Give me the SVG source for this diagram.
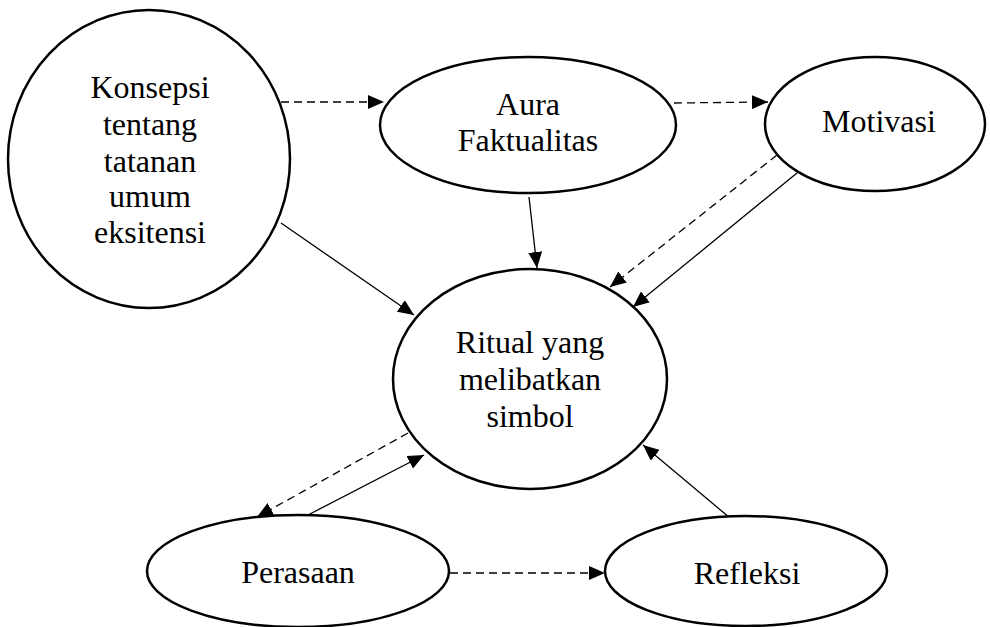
<svg xmlns="http://www.w3.org/2000/svg" width="990" height="627" viewBox="0 0 990 627">
<style>
.node ellipse{fill:#fff;stroke:#000;stroke-width:2.5}
.node text{font-family:"Liberation Serif","Times New Roman",serif;font-size:32px;fill:#000;text-anchor:middle}
.edge{stroke:#000;stroke-width:1.3;fill:none;marker-end:url(#ah)}
.dash{stroke-dasharray:8 5}
</style>
<defs>
<marker id="ah" markerUnits="userSpaceOnUse" markerWidth="16" markerHeight="14" refX="16" refY="7" orient="auto">
<path d="M0,0 L16,7 L0,14 z" fill="#000"/>
</marker>
</defs>
<rect width="990" height="627" fill="#fff"/>
<g id="connectors">
<line class="edge dash" x1="281" y1="102" x2="384" y2="102"/>
<line class="edge dash" x1="674" y1="103" x2="768" y2="102"/>
<line class="edge" x1="529" y1="197" x2="537" y2="268"/>
<line class="edge" x1="281" y1="223" x2="414" y2="315"/>
<line class="edge dash" x1="777" y1="155" x2="610" y2="287"/>
<line class="edge" x1="797" y1="173" x2="633" y2="307"/>
<line class="edge dash" x1="408" y1="433" x2="257" y2="517"/>
<line class="edge" x1="308" y1="515" x2="424" y2="455"/>
<line class="edge dash" x1="450" y1="573" x2="605" y2="573"/>
<line class="edge" x1="730" y1="518" x2="643" y2="445"/>
</g>
<g id="konsepsi" class="node">
<ellipse cx="149" cy="159" rx="141" ry="149"/>
<text x="150" y="98">Konsepsi</text>
<text x="150" y="135">tentang</text>
<text x="150" y="172">tatanan</text>
<text x="150" y="207">umum</text>
<text x="150" y="243">eksitensi</text>
</g>
<g id="aura" class="node">
<ellipse cx="528" cy="125" rx="148" ry="68"/>
<text x="528" y="115">Aura</text>
<text x="528" y="151">Faktualitas</text>
</g>
<g id="motivasi" class="node">
<ellipse cx="875" cy="124" rx="110" ry="67"/>
<text x="879" y="132">Motivasi</text>
</g>
<g id="ritual" class="node">
<ellipse cx="530" cy="379" rx="137" ry="110"/>
<text x="530" y="353">Ritual yang</text>
<text x="530" y="390">melibatkan</text>
<text x="530" y="427">simbol</text>
</g>
<g id="perasaan" class="node">
<ellipse cx="298" cy="571" rx="151" ry="56"/>
<text x="298" y="583">Perasaan</text>
</g>
<g id="refleksi" class="node">
<ellipse cx="746" cy="571" rx="141" ry="55"/>
<text x="747" y="584">Refleksi</text>
</g>
</svg>
